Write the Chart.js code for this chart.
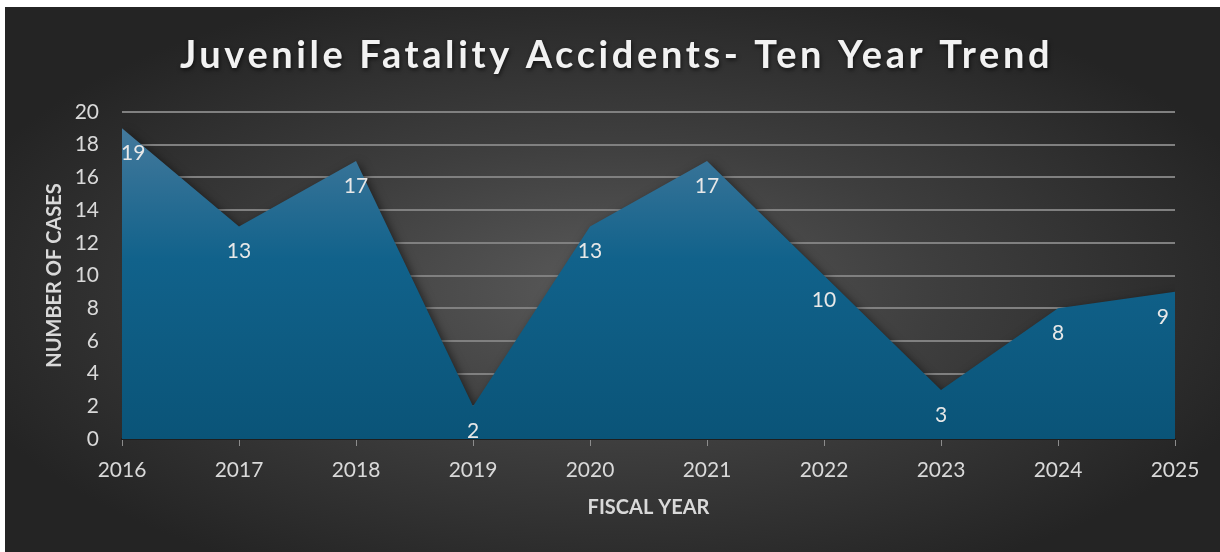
<!DOCTYPE html>
<html>
<head>
<meta charset="utf-8">
<script src="https://cdn.jsdelivr.net/npm/chart.js@4.4.1/dist/chart.umd.min.js"></script>
<style>
    html, body { margin: 0; padding: 0; background: #fff; }
    #wrap {
        position: absolute; left: 5px; top: 7px; width: 1215px; height: 545px;
        background: radial-gradient(ellipse farthest-corner at 50% 52%, #5a5a5a 0%, #3e3e3e 38%, #242424 80%);
    }
</style>
</head>
<body>
<div id="wrap"><canvas id="trendChart" width="1215" height="545"></canvas></div>
<script>
const chartTitle = 'Juvenile Fatality Accidents- Ten Year Trend';
const fiscalYears = ['2016', '2017', '2018', '2019', '2020', '2021', '2022', '2023', '2024', '2025'];
const caseCounts = [19, 13, 17, 2, 13, 17, 10, 3, 8, 9];
const yAxisTitle = 'NUMBER OF CASES';
const xAxisTitle = 'FISCAL YEAR';

const textGray = '#d9d9d9';
const baseFont = 'Lato, "Open Sans", sans-serif';

// title drawn by hand so it can have letter spacing and a drop shadow
const titlePlugin = {
    id: 'bigTitle',
    afterDraw(chart) {
        const c = chart.ctx;
        c.save();
        c.font = 'bold 38px ' + baseFont;
        c.letterSpacing = '3.6px';
        c.textAlign = 'center';
        c.textBaseline = 'alphabetic';
        c.shadowColor = 'rgba(0,0,0,0.6)';
        c.shadowBlur = 4;
        c.shadowOffsetX = 1;
        c.shadowOffsetY = 2;
        c.fillStyle = '#f2f2f2';
        c.fillText(chartTitle, chart.width / 2 + 4, 61);
        c.restore();
    }
};

const shadowPlugin = {
    id: 'areaShadow',
    beforeDatasetsDraw(chart) {
        const c = chart.ctx;
        c.save();
        c.shadowColor = 'rgba(0,0,0,0.55)';
        c.shadowBlur = 10;
        c.shadowOffsetX = 3;
        c.shadowOffsetY = 3;
    },
    afterDatasetsDraw(chart) {
        chart.ctx.restore();
    }
};

const labelPlugin = {
    id: 'valueLabels',
    afterDraw(chart) {
        const c = chart.ctx;
        const area = chart.chartArea;
        const meta = chart.getDatasetMeta(0);
        c.save();
        c.font = '21px ' + baseFont;
        c.fillStyle = '#e8e8e8';
        c.textAlign = 'center';
        c.textBaseline = 'middle';
        meta.data.forEach((pt, i) => {
            const txt = String(caseCounts[i]);
            const w = c.measureText(txt).width;
            let x = Math.max(area.left + w / 2 - 1, Math.min(area.right - w / 2 - 6, pt.x));
            c.fillText(txt, x, pt.y + 25);
        });
        c.restore();
    }
};

const canvas = document.getElementById('trendChart');

new Chart(canvas, {
    type: 'line',
    data: {
        labels: fiscalYears,
        datasets: [{
            data: caseCounts,
            fill: 'origin',
            tension: 0,
            pointRadius: 0,
            borderWidth: 0,
            borderColor: 'rgba(0,0,0,0)',
            backgroundColor: (ctx) => {
                const area = ctx.chart.chartArea;
                if (!area) return '#0e5e85';
                const g = ctx.chart.ctx.createLinearGradient(0, area.top, 0, area.bottom);
                g.addColorStop(0, '#4a7c9e');
                g.addColorStop(0.45, '#11628b');
                g.addColorStop(1, '#0a5478');
                return g;
            }
        }]
    },
    options: {
        responsive: false,
        animation: false,
        layout: {
            padding: { top: 105, right: 45, bottom: 0, left: 0 }
        },
        plugins: {
            legend: { display: false },
            tooltip: { enabled: false }
        },
        scales: {
            x: {
                offset: false,
                afterFit: (scale) => { scale.height = 113; },
                grid: {
                    drawOnChartArea: false,
                    drawTicks: true,
                    tickLength: 7,
                    color: '#8c8c8c'
                },
                border: { display: true, color: '#1e1e1e', width: 2 },
                ticks: {
                    color: textGray,
                    font: { family: baseFont, size: 21 },
                    padding: 12,
                    maxRotation: 0
                },
                title: {
                    display: true,
                    text: xAxisTitle,
                    color: textGray,
                    font: { family: baseFont, size: 20, weight: 'bold' },
                    padding: { top: 0, bottom: 32 }
                }
            },
            y: {
                min: 0,
                max: 20,
                afterFit: (scale) => { scale.width = 117; },
                grid: {
                    color: '#808080',
                    lineWidth: 2,
                    drawTicks: false
                },
                border: { display: false },
                ticks: {
                    stepSize: 2,
                    color: textGray,
                    font: { family: baseFont, size: 21 },
                    padding: 23
                },
                title: {
                    display: true,
                    text: yAxisTitle,
                    color: textGray,
                    font: { family: baseFont, size: 20, weight: 'bold' },
                    padding: { top: 38, bottom: 0 }
                }
            }
        }
    },
    plugins: [shadowPlugin, labelPlugin, titlePlugin]
});
</script>
</body>
</html>
